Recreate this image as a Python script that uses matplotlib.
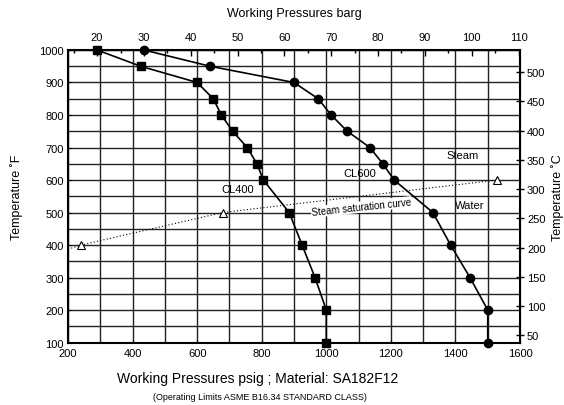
import matplotlib
matplotlib.use("Agg")
import matplotlib.pyplot as plt
from matplotlib.ticker import MultipleLocator

plt.rcParams['font.family'] = ['Liberation Sans', 'DejaVu Sans']

# --- data -------------------------------------------------------------
cl400_psig = [290, 425, 600, 650, 675, 710, 755, 785, 805, 885, 925, 965, 1000, 1000]
cl400_temp = [1000, 950, 900, 850, 800, 750, 700, 650, 600, 500, 400, 300, 200, 100]

cl600_psig = [435, 640, 900, 975, 1015, 1065, 1135, 1175, 1210, 1330, 1385, 1445, 1500, 1500]
cl600_temp = [1000, 950, 900, 850, 800, 750, 700, 650, 600, 500, 400, 300, 200, 100]

sat_psig = [200, 240, 680, 1530]
sat_temp = [387, 400, 500, 600]
sat_marker_psig = [240, 680, 1530]
sat_marker_temp = [400, 500, 600]

x_ticks = [200, 400, 600, 800, 1000, 1200, 1400, 1600]
y_ticks = [100, 200, 300, 400, 500, 600, 700, 800, 900, 1000]
barg_ticks = [20, 30, 40, 50, 60, 70, 80, 90, 100, 110]
degc_ticks = [50, 100, 150, 200, 250, 300, 350, 400, 450, 500]

PSI_PER_BAR = 14.5038

fig = plt.figure(figsize=(5.64, 4.06), dpi=100)
ax = fig.add_axes([0.1206, 0.1539, 0.922 - 0.1206, 0.8744 - 0.1539])

ax.set_xlim(200, 1600)
ax.set_ylim(100, 1000)
ax.set_xticks(x_ticks)
ax.set_yticks(y_ticks)
ax.xaxis.set_minor_locator(MultipleLocator(100))
ax.yaxis.set_minor_locator(MultipleLocator(50))
ax.grid(True, which='both', color='#222222', linewidth=1.0)
ax.set_axisbelow(True)
ax.tick_params(axis='x', which='major', labelsize=8, direction='in', length=2, pad=4)
ax.tick_params(axis='y', which='major', labelsize=8, direction='in', length=2, pad=3)
ax.tick_params(axis='both', which='minor', length=0)
for s in ax.spines.values():
    s.set_linewidth(1.5)
    s.set_color('black')

ax.plot(cl400_psig, cl400_temp, color='black', linewidth=1.2, marker='s',
        markersize=5.5, zorder=4, clip_on=False)
ax.plot(cl600_psig, cl600_temp, color='black', linewidth=1.2, marker='o',
        markersize=6, zorder=4, clip_on=False)
ax.plot(sat_psig, sat_temp, color='black', linewidth=0.8, linestyle=(0, (1, 2)), zorder=3)
ax.plot(sat_marker_psig, sat_marker_temp, linestyle='none', marker='^',
        markersize=6, markerfacecolor='white', markeredgecolor='black',
        markeredgewidth=0.8, zorder=5)

ax.text(727, 571, 'CL400', fontsize=8, ha='center', va='center', zorder=6)
ax.text(1104, 622, 'CL600', fontsize=8, ha='center', va='center', zorder=6)
ax.text(1423, 676, 'Steam', fontsize=8, ha='center', va='center', zorder=6)
ax.text(1445, 522, 'Water', fontsize=8, ha='center', va='center', zorder=6)
ax.text(1109, 517, 'Steam saturation curve', fontsize=7, ha='center', va='center',
        rotation=6, zorder=6,
        bbox=dict(facecolor='white', edgecolor='none', pad=0.5))

ax.set_ylabel('Temperature ˚F', fontsize=9, labelpad=12)

# top axis: barg
top = ax.secondary_xaxis('top', functions=(lambda p: p / PSI_PER_BAR,
                                           lambda b: b * PSI_PER_BAR))
top.set_xticks(barg_ticks)
top.xaxis.set_minor_locator(MultipleLocator(5))
top.tick_params(which='major', direction='in', length=4, width=1, labelsize=8, pad=6)
top.tick_params(which='minor', direction='in', length=2.5, width=1)
top.set_xlabel('Working Pressures barg', fontsize=9, labelpad=11)

# right axis: degC
right = ax.secondary_yaxis('right', functions=(lambda f: (f - 32) * 5 / 9,
                                               lambda c: c * 9 / 5 + 32))
right.set_yticks(degc_ticks)
right.tick_params(which='major', direction='inout', length=6, width=1, labelsize=8, pad=2)
right.tick_params(which='minor', length=0)
right.set_ylabel('Temperature ˚C', fontsize=9, labelpad=4)

fig.text(0.456, 0.066, 'Working Pressures psig ; Material: SA182F12', fontsize=10,
         ha='center', va='center')
fig.text(0.461, 0.022, '(Operating Limits ASME B16.34 STANDARD CLASS)', fontsize=6.5,
         ha='center', va='center')

fig.savefig('out.png', dpi=100)
